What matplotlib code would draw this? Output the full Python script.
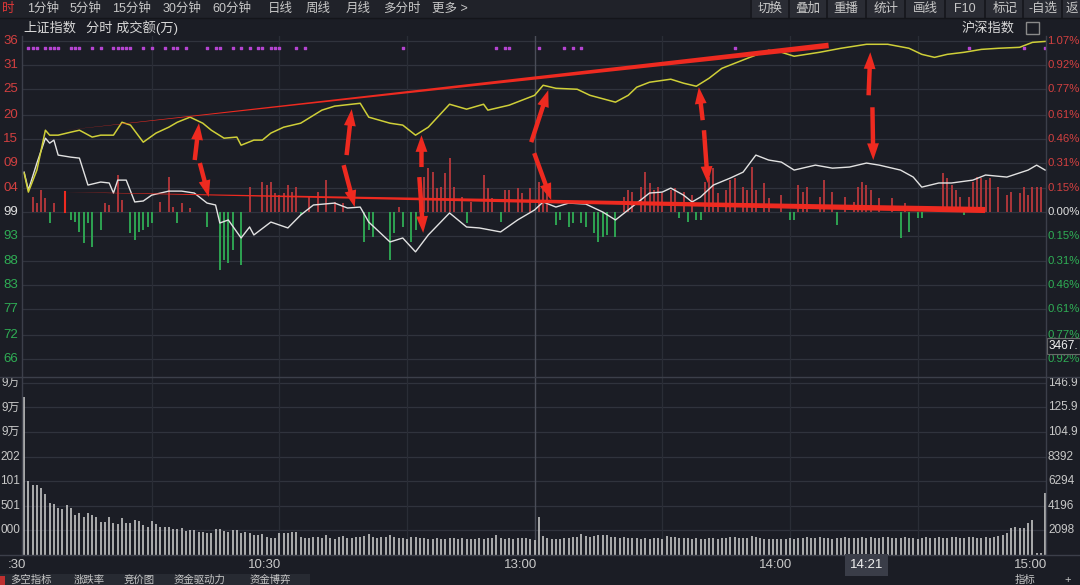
import numpy as np
import matplotlib
matplotlib.use("Agg")
import matplotlib.pyplot as plt
from matplotlib.patches import FancyArrowPatch, Rectangle

plt.rcParams['font.family'] = ['Liberation Sans', 'Noto Sans CJK SC', 'DejaVu Sans']

# ---------------- data (minutes since 9:30, percent change) ----------------
yellow_minute = [0, 1, 3, 5, 6, 8, 11, 13, 16, 18, 21, 23, 25, 28, 31, 34, 36, 39, 42, 44,
                 47, 50, 51, 54, 56, 58, 61, 65, 70, 73, 77, 79, 81, 86, 89, 92, 95, 100, 104, 108,
                 109, 114, 120, 122, 125, 130, 133, 139, 142, 144, 147, 152, 155, 158, 161, 164, 170, 175, 178, 181,
                 187, 192, 198, 203, 208, 211, 214, 217, 221, 225, 229, 234, 237, 240]
yellow_pct = [0.244, 0.125, 0.263, 0.513, 0.482, 0.482, 0.501, 0.513, 0.470, 0.482, 0.482, 0.563, 0.545, 0.438, 0.495, 0.532, 0.563, 0.595, 0.557, 0.513,
              0.463, 0.470, 0.419, 0.451, 0.451, 0.495, 0.532, 0.557, 0.639, 0.664, 0.676, 0.682, 0.595, 0.557, 0.545, 0.482, 0.532, 0.676, 0.645, 0.676,
              0.639, 0.670, 0.732, 0.795, 0.776, 0.770, 0.732, 0.689, 0.732, 0.783, 0.814, 0.833, 0.808, 0.789, 0.839, 0.901, 0.964, 1.014, 1.002, 0.977,
              1.002, 1.027, 1.052, 1.052, 1.027, 0.989, 0.970, 0.989, 1.002, 1.020, 1.027, 1.033, 1.064, 1.070]

white_minute = [0, 1, 3, 5, 6, 7, 8, 11, 13, 15, 18, 20, 21, 22, 24, 26, 28, 30, 34, 37,
                40, 43, 45, 46, 48, 51, 53, 54, 58, 62, 65, 68, 73, 76, 79, 81, 86, 89, 92, 95,
                100, 104, 107, 112, 116, 120, 122, 125, 128, 132, 136, 139, 142, 147, 150, 152, 155, 157, 159, 162,
                166, 169, 172, 175, 178, 181, 186, 190, 194, 198, 201, 206, 209, 211, 215, 218, 223, 226, 231, 236,
                238, 240]
white_pct = [0.250, 0.138, 0.307, 0.463, 0.432, 0.451, 0.357, 0.344, 0.338, 0.169, 0.188, 0.182, 0.119, 0.200, 0.200, 0.063, 0.069, 0.106, 0.131, 0.131,
             0.119, 0.056, 0.044, -0.069, -0.050, -0.163, -0.094, -0.144, -0.063, -0.100, -0.019, 0.044, 0.056, 0.025, 0.031, -0.063, -0.188, -0.163, -0.250, -0.144,
             -0.006, -0.094, -0.100, -0.125, -0.050, 0.013, 0.063, 0.031, 0.056, 0.050, 0.000, -0.050, 0.013, 0.119, 0.125, 0.150, 0.106, 0.063, 0.094, 0.169,
             0.213, 0.250, 0.357, 0.326, 0.313, 0.263, 0.294, 0.275, 0.282, 0.307, 0.294, 0.263, 0.219, 0.156, 0.182, 0.182, 0.200, 0.232, 0.219, 0.263,
             0.294, 0.263]

red_minute = [2, 3, 4, 5, 7, 19, 20, 22, 23, 32, 34, 35, 37, 39, 53, 56, 57, 58, 59, 60,
              61, 62, 63, 64, 67, 69, 71, 73, 75, 88, 93, 94, 95, 96, 97, 98, 99, 100, 101, 103,
              105, 108, 109, 110, 113, 114, 116, 117, 119, 121, 122, 123, 141, 142, 143, 145, 146, 147, 148, 149,
              150, 152, 153, 155, 157, 160, 161, 162, 163, 165, 166, 167, 169, 170, 171, 172, 174, 175, 178, 182,
              183, 184, 187, 188, 190, 193, 195, 196, 197, 198, 199, 201, 204, 207, 216, 217, 218, 219, 220, 222,
              223, 224, 225, 226, 227, 229, 231, 232, 234, 235, 236, 237, 238, 239]
red_value = [0.094, 0.056, 0.138, 0.088, 0.056, 0.056, 0.044, 0.232, 0.075, 0.063, 0.219, 0.031, 0.056, 0.025, 0.157, 0.188, 0.169, 0.188, 0.119, 0.106,
             0.119, 0.169, 0.125, 0.157, 0.094, 0.125, 0.200, 0.063, 0.056, 0.031, 0.213, 0.219, 0.275, 0.250, 0.150, 0.157, 0.244, 0.338, 0.157, 0.094,
             0.063, 0.232, 0.150, 0.088, 0.138, 0.138, 0.150, 0.119, 0.150, 0.188, 0.157, 0.157, 0.094, 0.138, 0.125, 0.157, 0.250, 0.182, 0.138, 0.157,
             0.119, 0.138, 0.150, 0.125, 0.106, 0.188, 0.219, 0.275, 0.119, 0.138, 0.200, 0.213, 0.157, 0.138, 0.282, 0.138, 0.182, 0.088, 0.106, 0.169,
             0.125, 0.157, 0.094, 0.200, 0.125, 0.094, 0.063, 0.157, 0.188, 0.169, 0.138, 0.088, 0.088, 0.056, 0.244, 0.213, 0.169, 0.138, 0.094, 0.094,
             0.188, 0.219, 0.213, 0.200, 0.213, 0.157, 0.106, 0.125, 0.119, 0.157, 0.106, 0.157, 0.157, 0.157]

green_minute = [6, 11, 12, 13, 14, 15, 16, 18, 25, 26, 27, 28, 29, 30, 36, 43, 46, 47, 48, 49,
                51, 65, 80, 81, 82, 86, 87, 89, 91, 92, 104, 112, 125, 126, 128, 129, 131, 132, 134, 135,
                136, 137, 139, 154, 156, 158, 159, 180, 181, 191, 206, 208, 210, 211, 221]
green_value = [-0.069, -0.050, -0.063, -0.125, -0.194, -0.069, -0.219, -0.113, -0.132, -0.175, -0.125, -0.113, -0.094, -0.069, -0.069, -0.094, -0.363, -0.300, -0.319, -0.238,
               -0.332, -0.019, -0.188, -0.113, -0.157, -0.300, -0.132, -0.094, -0.188, -0.113, -0.069, -0.063, -0.081, -0.050, -0.094, -0.069, -0.069, -0.094, -0.132, -0.188,
               -0.157, -0.144, -0.157, -0.038, -0.063, -0.050, -0.050, -0.050, -0.050, -0.081, -0.163, -0.125, -0.038, -0.038, -0.019]

# turnover per minute (万), minutes 0..240
volume = [13477, 6312, 5971, 5971, 5715, 5203, 4436, 4350, 4009, 3924,
          4265, 4009, 3412, 3583, 3241, 3583, 3412, 3241, 2815, 2815,
          3241, 2730, 2644, 3156, 2730, 2730, 2986, 2900, 2559, 2388,
          2900, 2644, 2388, 2388, 2388, 2218, 2218, 2303, 2047, 2133,
          2133, 1962, 1962, 1877, 1877, 2218, 2218, 2047, 1962, 2133,
          2133, 1877, 1962, 1877, 1706, 1706, 1791, 1535, 1450, 1450,
          1877, 1877, 1877, 1962, 1962,
          1535, 1450, 1450, 1535, 1535, 1450, 1706, 1450, 1365, 1535,
          1621, 1450, 1450, 1535, 1535, 1621, 1791, 1535, 1450, 1535,
          1535, 1706, 1535, 1450, 1450, 1365, 1535, 1535, 1450, 1450,
          1365, 1365, 1450, 1365, 1365, 1450, 1450, 1365, 1450, 1365,
          1365, 1365, 1450, 1365, 1450, 1450, 1706, 1450, 1365, 1450,
          1365, 1450, 1450, 1450, 1365, 1280, 3241, 1621, 1450, 1365,
          1365, 1365, 1450, 1450, 1535, 1535, 1791, 1621, 1535, 1621,
          1706, 1706, 1706, 1535, 1535, 1450, 1535, 1450, 1450, 1450,
          1365, 1450, 1365, 1450, 1450, 1365, 1621, 1535, 1535, 1450,
          1450, 1450, 1365, 1450, 1365, 1365, 1450, 1450, 1365, 1450,
          1450, 1535, 1535, 1450, 1450, 1450, 1621, 1535, 1450, 1365,
          1365, 1365, 1365, 1365, 1365, 1450, 1365, 1450, 1450, 1535,
          1450, 1450, 1535, 1450, 1450, 1365, 1450, 1450, 1535, 1450,
          1450, 1450, 1535, 1450, 1535, 1450, 1450, 1535, 1535, 1450,
          1450, 1450, 1535, 1450, 1450, 1365, 1450, 1535, 1450, 1450,
          1535, 1450, 1450, 1535, 1535, 1450, 1450, 1535, 1535, 1450,
          1450, 1535, 1450, 1535, 1621, 1706, 1877, 2303, 2388, 2303,
          2303, 2730, 2986, 170, 170, 5290]

signal_minute = [1, 2, 3, 5, 6, 7, 8, 11, 12, 13, 16, 18, 21, 22, 23, 24, 25, 28, 30, 33,
                 35, 36, 38, 43, 45, 46, 49, 51, 53, 55, 56, 58, 59, 60, 64, 66, 89, 111, 113, 114,
                 121, 127, 129, 131, 167, 222, 235, 240]

# axis labels as they show at the cropped screen edges
price_levels = [1.07, 0.92, 0.77, 0.61, 0.46, 0.31, 0.15, 0.00, -0.15, -0.31, -0.46, -0.61, -0.77, -0.92]
price_left_labels = ['36', '31', '25', '20', '15', '09', '04', '99', '93', '88', '83', '77', '72', '66']
price_right_labels = ['1.07%', '0.92%', '0.77%', '0.61%', '0.46%', '0.31%', '0.15%', '0.00%', '0.15%', '0.31%', '0.46%', '0.61%', '0.77%', '0.92%']

vol_levels = [14686, 12588, 10490, 8392, 6294, 4196, 2098]
vol_left_labels = ['9万', '9万', '9万', '202', '101', '501', '000']
vol_right_labels = ['146.9', '125.9', '104.9', '8392', '6294', '4196', '2098']

time_ticks = [0, 60, 120, 180, 240]
time_labels = [':30', '10:30', '13:00', '14:00', '15:00']
grid_minutes = [30, 60, 90, 150, 180, 210]

# hand-drawn annotations (minute, pct)
trend_top = [(189.1, 1.045), (9.6, 0.513)]
trend_low = [(225.9, 0.0125), (9.6, 0.125)]
arrows = [(40.1, 0.326, 41.1, 0.557), (41.3, 0.307, 43.4, 0.094),
          (75.8, 0.357, 77.0, 0.645), (75.1, 0.294, 77.7, 0.031),
          (93.4, 0.282, 93.4, 0.482), (92.9, 0.219, 93.8, -0.131),
          (119.2, 0.438, 123.2, 0.764), (119.9, 0.369, 123.9, 0.075),
          (159.5, 0.576, 158.6, 0.783), (159.8, 0.513, 160.7, 0.182),
          (198.5, 0.732, 198.9, 1.002), (199.4, 0.657, 199.6, 0.326)]

top_left_items = [(27, '1分钟'), (70, '5分钟'), (112, '15分钟'), (163, '30分钟'), (212, '60分钟'),
                  (268, '日线'), (306, '周线'), (346, '月线'), (383, '多分时'), (432, '更多 >')]
top_right_items = [(770, '切换'), (808, '叠加'), (846, '重播'), (886, '统计'), (925, '画线'),
                   (965, 'F10'), (1005, '标记'), (1043, '-自选'), (1072, '返')]
bottom_tabs = [(10, '多空指标'), (74, '涨跌率'), (124, '竞价图'), (174, '资金驱动力'), (250, '资金博弈')]

# ---------------- style ----------------
BG = '#1b1d25'
GRID = '#30333d'
VGRID = '#2a2d36'
TXT = '#c8c8c8'
RED = '#d24040'
GREEN = '#2fae55'
MARK = '#ee2a20'

W, H = 1080, 585
fig = plt.figure(figsize=(10.8, 5.85), dpi=100)
fig.patch.set_facecolor(BG)


def fx(x):
    return x / W


def fy(y):
    return 1 - y / H


def rect(x0, y0, x1, y1, color):
    fig.add_artist(Rectangle((fx(x0), fy(y1)), (x1 - x0) / W, (y1 - y0) / H,
                             transform=fig.transFigure, color=color, lw=0, zorder=0))


def hline(y, x0, x1, color, lw=1.0):
    fig.add_artist(plt.Line2D([fx(x0), fx(x1)], [fy(y), fy(y)], transform=fig.transFigure,
                              color=color, lw=lw))


def vline(x, y0, y1, color, lw=1.0):
    fig.add_artist(plt.Line2D([fx(x), fx(x)], [fy(y0), fy(y1)], transform=fig.transFigure,
                              color=color, lw=lw))


# toolbars
rect(0, 0, 1080, 18, '#202229')
rect(750, 0, 1080, 18, '#2a2c34')
for sx in [751, 789, 827, 866, 905, 945, 985, 1023, 1062]:
    vline(sx, 0, 18, '#15161b', 1.2)
fig.text(fx(2), fy(9), '时', color='#e03838', fontsize=9, ha='left', va='center')
for x, t in top_left_items:
    fig.text(fx(x), fy(9), t, color=TXT, fontsize=9, ha='left', va='center')
for x, t in top_right_items:
    fig.text(fx(x), fy(9), t, color=TXT, fontsize=9, ha='center', va='center')

fig.text(fx(23), fy(28), '上证指数', color='#d8d8d8', fontsize=9.5, ha='left', va='center')
fig.text(fx(86), fy(28), '分时 成交额(万)', color='#d8d8d8', fontsize=9.5, ha='left', va='center')
fig.text(fx(1015), fy(28), '沪深指数', color='#d8d8d8', fontsize=9.5, ha='right', va='center')
fig.add_artist(Rectangle((fx(1026), fy(34)), 13 / W, 12 / H, transform=fig.transFigure,
                         fill=False, edgecolor='#8a8a8a', lw=1))

rect(0, 574, 310, 585, '#272a32')
for x, t in bottom_tabs:
    fig.text(fx(x), fy(579.5), t, color=TXT, fontsize=7.5, ha='left', va='center')
fig.text(fx(1015), fy(579.5), '指标', color=TXT, fontsize=7.5, ha='left', va='center')
fig.text(fx(1068), fy(579.5), '+', color=TXT, fontsize=8, ha='center', va='center')
rect(0, 576, 5, 585, '#c03030')

# ---------------- price panel ----------------
ax = fig.add_axes([fx(22), fy(377), (1046 - 22) / W, (377 - 36) / H])
ax.set_xlim(-0.5, 240.2)
ax.set_ylim(-1.035, 1.104)
ax.axis('off')
for lv in price_levels:
    ax.axhline(lv, color=GRID, lw=0.9, zorder=0)
for m in grid_minutes:
    ax.axvline(m, color=VGRID, lw=0.9, zorder=0)
ax.axvline(120, color='#4a4d58', lw=1.0, zorder=0)

ax.vlines(red_minute, 0, red_value, color='#b8383c', lw=1.3, zorder=2)
ax.vlines(green_minute, 0, green_value, color=GREEN, lw=1.3, zorder=2)
ax.plot(white_minute, white_pct, color='#e2e2e2', lw=1.0, zorder=3)
ax.plot(yellow_minute, yellow_pct, color='#cfcf38', lw=1.1, zorder=3)
ax.scatter(signal_minute, np.full(len(signal_minute), 1.028), s=3, marker='s',
           color='#b444d0', zorder=4)

tr = ax.get_yaxis_transform()
for lv, l, r in zip(price_levels, price_left_labels, price_right_labels):
    c = RED if lv > 0 else (GREEN if lv < 0 else '#e0e0e0')
    ax.text(-4 / 1024, lv, l, transform=tr, ha='right', va='center', color=c,
            fontsize=9.5, clip_on=False)
    ax.text(1.0 + 1.5 / 1024, lv, r, transform=tr, ha='left', va='center', color=c,
            fontsize=8.2, clip_on=False)
ax.text(1.0 + 3 / 1024, -0.84, '3467.', transform=tr, ha='left', va='center', color='#f0f0f0',
        fontsize=8.5, clip_on=False,
        bbox=dict(boxstyle='square,pad=0.15', facecolor=BG, edgecolor='#6a6a6a', lw=0.8))

# annotations
for (xa, ya), (xb, yb), tw, sf in [(trend_top[0], trend_top[1], 4.0, 0.45),
                                   (trend_low[0], trend_low[1], 4.4, 0.55)]:
    ax.add_patch(FancyArrowPatch((xa, ya), (xb, yb),
                                 arrowstyle='wedge,tail_width=%s,shrink_factor=%s' % (tw, sf),
                                 mutation_scale=1, color=MARK, shrinkA=0, shrinkB=0, lw=0, zorder=6))
ax.plot([trend_low[1][0], trend_low[1][0]], [trend_low[1][1], 0], color=MARK, lw=1.5, zorder=6)
for x0, y0, x1, y1 in arrows:
    ax.add_patch(FancyArrowPatch((x0, y0), (x1, y1),
                                 arrowstyle='simple,head_length=1.2,head_width=0.85,tail_width=0.32',
                                 mutation_scale=10, color=MARK, shrinkA=0, shrinkB=0, lw=0, zorder=6))

# ---------------- volume panel ----------------
av = fig.add_axes([fx(22), fy(555), (1046 - 22) / W, (555 - 377) / H])
av.set_xlim(-0.5, 240.2)
av.set_ylim(0, 15180)
av.axis('off')
for lv in vol_levels:
    av.axhline(lv, color=GRID, lw=0.9, zorder=0)
for m in grid_minutes:
    av.axvline(m, color=VGRID, lw=0.9, zorder=0)
av.axvline(120, color='#4a4d58', lw=1.0, zorder=0)
av.vlines(np.arange(len(volume)), 0, volume, color='#c4c4c4', lw=1.2, zorder=2)

trv = av.get_yaxis_transform()
for lv, l, r in zip(vol_levels, vol_left_labels, vol_right_labels):
    av.text(-2 / 1024, lv, l, transform=trv, ha='right', va='center', color=TXT,
            fontsize=8.5, clip_on=False)
    av.text(1.0 + 2 / 1024, lv, r, transform=trv, ha='left', va='center', color=TXT,
            fontsize=8.5, clip_on=False)

trx = av.get_xaxis_transform()
for m, t in zip(time_ticks, time_labels):
    av.text(m + 0.5, -10 / 178, t, transform=trx, ha='right', va='center', color=TXT,
            fontsize=9.5, clip_on=False)
av.text(198, -10 / 178, '14:21', transform=trx, ha='center', va='center', color='#f0f0f0',
        fontsize=9.5, clip_on=False,
        bbox=dict(boxstyle='square,pad=0.35', facecolor='#3a3d48', edgecolor='none'))

# frame lines
vline(22, 36, 555, '#3c3f4a')
vline(1046, 36, 555, '#3c3f4a')
hline(377, 0, 1080, '#3c3f4a')
hline(555, 0, 1080, '#3c3f4a')
hline(18, 0, 1080, '#14151a')

fig.savefig('out.png', dpi=100, facecolor=BG)
